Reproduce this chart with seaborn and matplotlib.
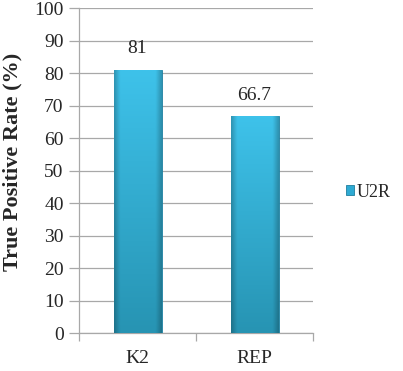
import matplotlib.pyplot as plt
import seaborn as sns
import pandas as pd
import numpy as np
from matplotlib.colors import to_rgb

sns.set_theme(style='white')
plt.rcParams['font.family'] = ['Liberation Serif', 'DejaVu Serif']

# data
categories = ['K2', 'REP']
values = [81, 66.7]
series = 'U2R'
y_label = 'True Positive Rate (%)'

df = pd.DataFrame({'method': categories, 'rate': values, 'series': [series] * len(categories)})

fig = plt.figure(figsize=(4.03, 3.71), dpi=100)
ax = fig.add_axes([0.196, 0.1024, 0.581, 0.8756])

sns.barplot(data=df, x='method', y='rate', hue='series', ax=ax,
            palette=['#2eaad3'], saturation=1, width=0.41,
            edgecolor='#1f7f9e', linewidth=0.6, zorder=3)

ax.set_ylim(0, 100)
ax.set_xlim(-0.5, 1.5)

# shaded fill like the office 3d-ish bars
top = np.array(to_rgb('#3ec2ea'))
bot = np.array(to_rgb('#2794b3'))
t = np.linspace(0, 1, 64)[:, None, None]
col = top * (1 - t) + bot * t                       # vertical
xs = np.linspace(0, 1, 32)[None, :, None]
shade = 1 - 0.22 * np.clip((np.abs(xs - 0.5) - 0.38) / 0.12, 0, 1)
grad = np.clip(col * shade, 0, 1)
for p in ax.patches:
    x0, y0 = p.get_x(), p.get_y()
    w, h = p.get_width(), p.get_height()
    if h <= 0:
        continue
    im = ax.imshow(grad, extent=[x0, x0 + w, y0, y0 + h], origin='upper',
                   aspect='auto', zorder=3.5, interpolation='bilinear')
    im.set_clip_path(p)
ax.set_xlim(-0.5, 1.5)
ax.set_ylim(0, 100)

# labels above bars
ax.bar_label(ax.containers[0], labels=[f'{v:g}' for v in values], padding=9, fontsize=14)

ax.set_yticks(range(0, 101, 10))
ax.yaxis.grid(True, color='#a8a8a8', linewidth=0.9, zorder=0)
ax.set_axisbelow(True)

for s in ['top', 'right']:
    ax.spines[s].set_visible(False)
for s in ['left', 'bottom']:
    ax.spines[s].set_color('#a8a8a8')
    ax.spines[s].set_linewidth(0.9)

ax.tick_params(axis='y', length=7, color='#a8a8a8', width=0.9, labelsize=14, pad=4, left=True)
ax.tick_params(axis='x', which='major', length=0, labelsize=14, pad=12)
ax.set_xticks([-0.5, 0.5, 1.5], minor=True)
ax.tick_params(axis='x', which='minor', length=6, color='#a8a8a8', width=0.9, bottom=True)

ax.set_xlabel('')
ax.set_ylabel(y_label, fontsize=16, fontweight='bold')
ax.yaxis.set_label_coords(-0.24, 0.526)

ax.legend(loc='center left', bbox_to_anchor=(1.11, 0.434), frameon=False,
          fontsize=13, handlelength=0.45, handleheight=0.45, handletextpad=0.15,
          borderaxespad=0)

fig.savefig('out.png', dpi=100)
